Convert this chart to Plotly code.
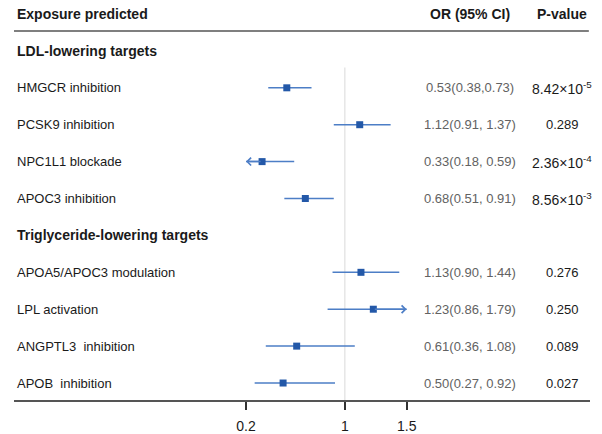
import plotly.graph_objects as go

# ---- data ----
group_names = ["LDL-lowering targets", "Triglyceride-lowering targets"]
group_sizes = [4, 4]
exposures = [
    "HMGCR inhibition", "PCSK9 inhibition", "NPC1L1 blockade", "APOC3 inhibition",
    "APOA5/APOC3 modulation", "LPL activation", "ANGPTL3\u00a0 inhibition", "APOB\u00a0 inhibition",
]
or_vals = [0.53, 1.12, 0.33, 0.68, 1.13, 1.23, 0.61, 0.50]
ci_low = [0.38, 0.91, 0.18, 0.51, 0.90, 0.86, 0.36, 0.27]
ci_high = [0.73, 1.37, 0.59, 0.91, 1.44, 1.79, 1.08, 0.92]
or_text = [
    "0.53(0.38,0.73)", "1.12(0.91, 1.37)", "0.33(0.18, 0.59)", "0.68(0.51, 0.91)",
    "1.13(0.90, 1.44)", "1.23(0.86, 1.79)", "0.61(0.36, 1.08)", "0.50(0.27, 0.92)",
]
p_text = [
    "8.42×10<sup>-5</sup>", "0.289", "2.36×10<sup>-4</sup>", "8.56×10<sup>-3</sup>",
    "0.276", "0.250", "0.089", "0.027",
]
tick_vals = [0.2, 1, 1.5]
tick_text = ["0.2", "1", "1.5"]
x_min_shown, x_max_shown = 0.2, 1.5

# ---- styling ----
FONT = "Liberation Sans, Arial, sans-serif"
LINE_C = "#4d7ec6"
MARK_C = "#2358a8"
W, H = 602, 434

# row layout: header is row 0, then group label rows followed by their items
group_rows, item_rows = [], []
r = 1
for n in group_sizes:
    group_rows.append(r)
    item_rows.extend(range(r + 1, r + 1 + n))
    r += n + 1
last_row = item_rows[-1]

fig = go.Figure()

# confidence-interval segments (clipped to the shown axis span)
xs, ys = [], []
for lo, hi, y in zip(ci_low, ci_high, item_rows):
    xs += [max(lo, x_min_shown), min(hi, x_max_shown), None]
    ys += [y, y, None]
fig.add_trace(go.Scatter(x=xs, y=ys, mode="lines",
                         line=dict(color=LINE_C, width=1.5),
                         hoverinfo="skip", showlegend=False))

# point estimates
fig.add_trace(go.Scatter(x=or_vals, y=item_rows, mode="markers",
                         marker=dict(symbol="square", size=7, color=MARK_C),
                         showlegend=False))

annotations = []

# arrows for intervals running past the axis span
for est, lo, hi, y in zip(or_vals, ci_low, ci_high, item_rows):
    for bound, clipped in ((lo, lo < x_min_shown), (hi, hi > x_max_shown)):
        if clipped:
            end = x_min_shown if bound < est else x_max_shown
            annotations.append(dict(
                x=end, y=y, ax=est, ay=y, xref="x", yref="y", axref="x", ayref="y",
                text="", showarrow=True, arrowhead=4, arrowsize=1,
                arrowwidth=1.5, arrowcolor=LINE_C))

LEFT_X = 15 / W
OR_X = 470 / W
P_X = 562 / W

def txt(x, y, s, size=13, color="#1a1a1a", bold=False, anchor="left"):
    annotations.append(dict(
        x=x, y=y, xref="paper", yref="y", text=f"<b>{s}</b>" if bold else s,
        showarrow=False, xanchor=anchor, yanchor="middle",
        font=dict(family=FONT, size=size, color=color)))

# column headers
txt(LEFT_X, 0, "Exposure predicted", size=14, bold=True)
txt(OR_X, 0, "OR (95% CI)", size=14, bold=True, anchor="center")
txt(P_X, 0, "P-value", size=14, bold=True, anchor="center")

for name, y in zip(group_names, group_rows):
    txt(LEFT_X, y, name, size=14, bold=True)

for name, ot, pt, y in zip(exposures, or_text, p_text, item_rows):
    txt(LEFT_X, y, name, size=13)
    txt(OR_X, y, ot, size=13, color="#626262", anchor="center")
    txt(P_X, y, pt, size=14 if "sup" in pt else 13, anchor="center")

shapes = [
    # rule under the header
    dict(type="line", xref="x domain", yref="y", x0=0, x1=0.998, y0=0.46, y1=0.46,
         line=dict(color="#555555", width=1.5)),
    # line of no effect
    dict(type="line", xref="x", yref="y", x0=1, x1=1, y0=1.45, y1=last_row + 0.46,
         line=dict(color="#d9d9d9", width=1), layer="below"),
]

# axis geometry: pixel placement of the domain and a linear OR scale
x_dom = [14 / W, 590 / W]
px_per_unit = 123.6
x_lo = 0.2 - (246 - 14) / px_per_unit
x_hi = 1.5 + (590 - 406.7) / px_per_unit
row_px = 36.9
y_top = -14 / row_px
y_bot = last_row + 0.46

fig.update_layout(
    width=W, height=H, margin=dict(l=0, r=0, t=0, b=0),
    paper_bgcolor="white", plot_bgcolor="white",
    font=dict(family=FONT, color="#1a1a1a"),
    annotations=annotations, shapes=shapes, showlegend=False,
    xaxis=dict(domain=x_dom, range=[x_lo, x_hi], tickvals=tick_vals, ticktext=tick_text,
               ticks="outside", ticklen=8, tickwidth=1.5, tickcolor="#333333",
               ticklabelstandoff=4,
               showline=True, linecolor="#555555", linewidth=1.5,
               showgrid=False, zeroline=False,
               tickfont=dict(family=FONT, size=14, color="#1a1a1a")),
    yaxis=dict(domain=[(H - 400) / H, 1], range=[y_bot, y_top], visible=False,
               showgrid=False, zeroline=False),
)

fig.write_html("out.html")
